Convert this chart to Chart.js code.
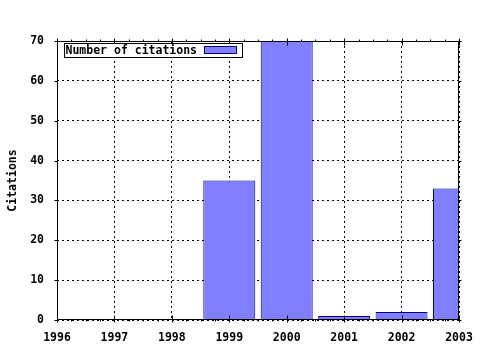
<!DOCTYPE html>
<html>
<head>
<meta charset="utf-8">
<script src="https://cdn.jsdelivr.net/npm/chart.js@4"></script>
<style>
  html, body { margin: 0; padding: 0; background: #fff; }
  #wrap { width: 480px; height: 350px; }
</style>
</head>
<body>
<div id="wrap"><canvas id="citeChart"></canvas></div>
<script>
const years = ['1996', '1997', '1998', '1999', '2000', '2001', '2002', '2003'];
const citations = [0, 0, 0, 35, 70, 1, 2, 33];
const seriesLabel = 'Number of citations';
const yMax = 70;
const yStep = 10;

const FONT = 'DejaVu Sans Mono';
const barFill = 'rgb(128, 128, 255)';
const barEdge = 'rgb(0, 0, 128)';

// frame, small tics and the boxed key, gnuplot style
const framePlugin = {
    id: 'frame',
    afterDatasetsDraw(chart) {
        const { ctx, chartArea: a, scales } = chart;
        const L = Math.round(a.left) + 0.5, R = Math.round(a.right) - 0.5;
        const T = Math.round(a.top) + 0.5, B = Math.round(a.bottom) - 0.5;
        ctx.save();
        ctx.strokeStyle = '#000';
        ctx.lineWidth = 1;
        ctx.setLineDash([]);
        ctx.strokeRect(L, T, R - L, B - T);

        ctx.beginPath();
        const xs = scales.x;
        for (let i = 0; i < years.length; i++) {
            const px = Math.round(xs.getPixelForValue(i)) + 0.5;
            ctx.moveTo(px, B - 4); ctx.lineTo(px, B + 3);
            ctx.moveTo(px, T - 3); ctx.lineTo(px, T + 4);
            if (i < years.length - 1) {
                for (let q = 1; q < 4; q++) {
                    const mx = Math.round(xs.getPixelForValue(i + q / 4)) + 0.5;
                    ctx.moveTo(mx, B); ctx.lineTo(mx, B + 2);
                    ctx.moveTo(mx, T); ctx.lineTo(mx, T - 2);
                }
            }
        }
        const ys = scales.y;
        for (let v = 0; v <= yMax; v += yStep) {
            const py = Math.round(ys.getPixelForValue(v)) + 0.5;
            ctx.moveTo(L - 3, py); ctx.lineTo(L, py);
            ctx.moveTo(R, py); ctx.lineTo(R + 3, py);
        }
        ctx.stroke();

        // key
        const kx = Math.round(a.left) + 7.5, ky = Math.round(a.top) + 2.5;
        const kw = 178, kh = 14;
        ctx.fillStyle = '#fff';
        ctx.fillRect(kx, ky, kw, kh);
        ctx.strokeRect(kx, ky, kw, kh);
        ctx.fillStyle = '#000';
        ctx.font = `bold 11.5px "${FONT}"`;
        ctx.textBaseline = 'middle';
        ctx.textAlign = 'left';
        ctx.fillText(chart.data.datasets[0].label, kx + 1, ky + kh / 2 + 1);
        ctx.fillStyle = barFill;
        ctx.fillRect(kx + 140, ky + 3, 32, 7);
        ctx.strokeStyle = barEdge;
        ctx.strokeRect(kx + 140, ky + 3, 32, 7);
        ctx.restore();
    }
};

const canvas = document.getElementById('citeChart');
new Chart(canvas.getContext('2d'), {
    type: 'bar',
    data: {
        labels: years,
        datasets: [{
            label: seriesLabel,
            data: citations,
            backgroundColor: barFill,
            borderColor: barEdge,
            borderWidth: 1,
            borderSkipped: 'start',
            categoryPercentage: 1,
            barPercentage: 0.905,
            clip: 0
        }]
    },
    options: {
        responsive: true,
        maintainAspectRatio: false,
        animation: false,
        layout: { padding: { left: 0, right: 21, top: 41, bottom: 0 } },
        plugins: {
            legend: { display: false },
            tooltip: { enabled: false }
        },
        scales: {
            x: {
                offset: false,
                grid: {
                    offset: false,
                    color: '#000',
                    lineWidth: 1,
                    drawTicks: false
                },
                border: { display: false, dash: [2, 3] },
                ticks: {
                    color: '#000',
                    font: { family: FONT, size: 11.5, weight: 'bold' },
                    padding: 11,
                    maxRotation: 0,
                    autoSkip: false
                },
                afterFit: s => {
                    s.height = 30;
                    s.paddingLeft = 0;
                    s.paddingRight = 0;
                }
            },
            y: {
                min: 0,
                max: yMax,
                grid: { color: '#000', lineWidth: 1, drawTicks: false },
                border: { display: false, dash: [2, 3] },
                ticks: {
                    stepSize: yStep,
                    color: '#000',
                    font: { family: FONT, size: 11.5, weight: 'bold' },
                    padding: 13
                },
                title: {
                    display: true,
                    text: 'Citations',
                    color: '#000',
                    font: { family: FONT, size: 11.5, weight: 'bold' },
                    padding: { top: 6, bottom: 0 }
                },
                afterFit: s => { s.width = 57; }
            }
        }
    },
    plugins: [framePlugin]
});
</script>
</body>
</html>
